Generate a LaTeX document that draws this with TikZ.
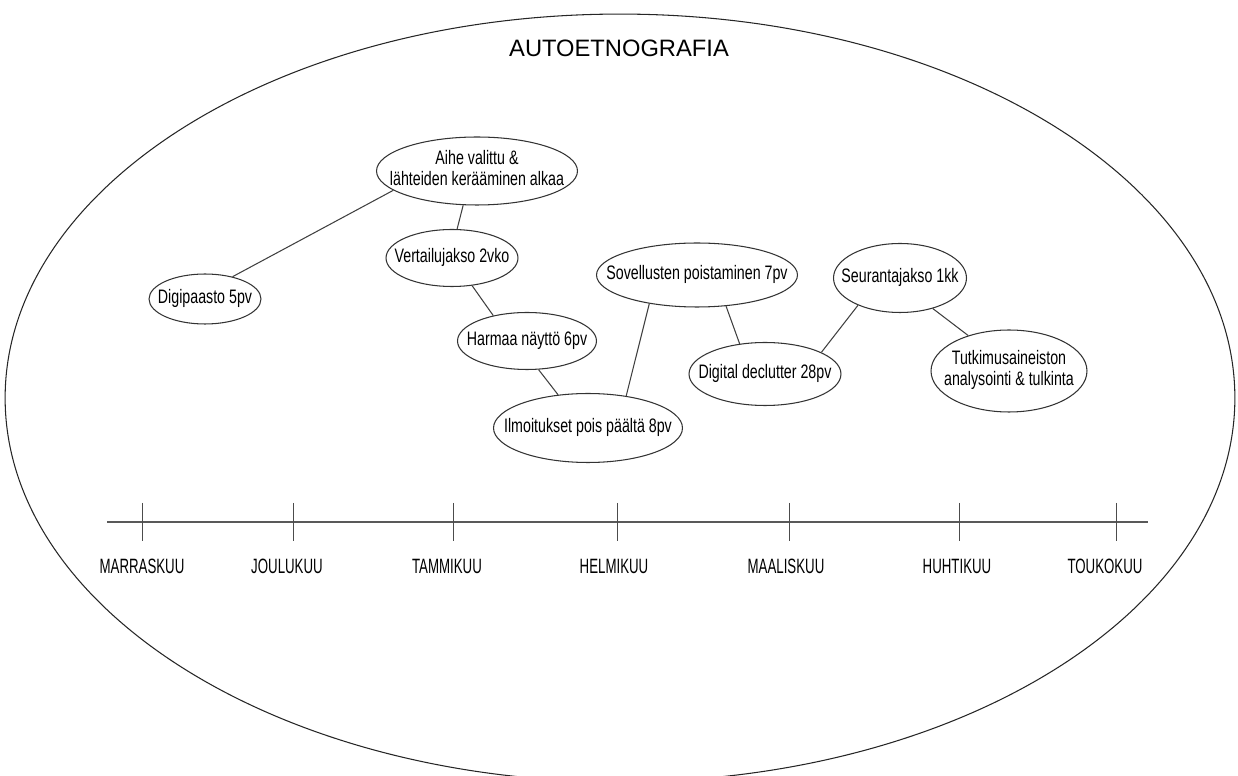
\documentclass[tikz,border=0pt]{standalone}
\usepackage{fontspec}
\setmainfont{Liberation Sans}
\newfontfamily\narrowfont[FakeStretch=0.73]{Liberation Sans}
\newfontfamily\monthfont[FakeStretch=0.64]{Liberation Sans}
\usetikzlibrary{shapes.geometric}
% text that does not widen its ellipse
\newcommand\phasetext[1]{\makebox[0pt]{\begin{tabular}{@{}c@{}}#1\end{tabular}}}

\begin{document}
\begin{tikzpicture}[x=0.02cm,y=-0.02cm,line width=0.6pt,
  phase/.style={draw=black!80,ellipse,inner sep=0pt,font=\narrowfont\fontsize{11.1}{11.4}\selectfont},
  link/.style={draw=black!75},
  tick/.style={draw=black!70,line width=0.5pt},
  month/.style={font=\monthfont\fontsize{11.8}{12}\selectfont}]
\useasboundingbox (0,0) rectangle (1238,776);
% outer frame
\draw[black!85] (620,398) ellipse [x radius=12.3cm, y radius=7.68cm];
\node[font=\fontsize{13.5}{14}\selectfont] (title) at (619,48) {AUTOETNOGRAFIA};
% phases of the study
\node[phase,minimum width=2.24cm,minimum height=1cm] (digi) at (205,299) {\phasetext{Digipaasto 5pv}};
\node[phase,minimum width=4.02cm,minimum height=1.36cm] (aihe) at (477,171) {\phasetext{Aihe valittu \&\\l\"ahteiden ker\"a\"aminen alkaa}};
\node[phase,minimum width=2.64cm,minimum height=1.14cm] (vert) at (452,258) {\phasetext{Vertailujakso 2vko}};
\node[phase,minimum width=2.78cm,minimum height=1.14cm] (harm) at (527,341) {\phasetext{Harmaa n\"aytt\"o 6pv}};
\node[phase,minimum width=3.78cm,minimum height=1.38cm] (ilmo) at (588,428) {\phasetext{Ilmoitukset pois p\"a\"alt\"a 8pv}};
\node[phase,minimum width=4.02cm,minimum height=1.28cm] (sove) at (697,275) {\phasetext{Sovellusten poistaminen 7pv}};
\node[phase,minimum width=3.04cm,minimum height=1.26cm] (decl) at (765,374) {\phasetext{Digital declutter 28pv}};
\node[phase,minimum width=2.66cm,minimum height=1.38cm] (seur) at (900,278) {\phasetext{Seurantajakso 1kk}};
\node[phase,minimum width=3.12cm,minimum height=1.64cm] (tutk) at (1009,371) {\phasetext{Tutkimusaineiston\\analysointi \& tulkinta}};
% links
\draw[link] (digi.39) -- (aihe.193);
\draw[link] (aihe.248) -- (vert.80);
\draw[link] (vert.306) -- (harm.143);
\draw[link] (harm.292) -- (ilmo.132);
\draw[link] (ilmo.40) -- (sove.211);
\draw[link] (sove.313) -- (decl.130);
\draw[link] (decl.21) -- (seur.213);
\draw[link] (seur.317) -- (tutk.139);
% time axis
\draw[black!65,line width=0.9pt] (107,522) -- (1148,522);
\foreach \x/\lx/\l [count=\i] in {142/142/MARRASKUU,293/287/JOULUKUU,453/447/TAMMIKUU,617/614/HELMIKUU,789/786/MAALISKUU,959/957/HUHTIKUU,1116/1105/TOUKOKUU} {
  \draw[tick] (\x,503) -- (\x,541);
  \node[month] (m\i) at (\lx,566) {\l};
}
\end{tikzpicture}
\end{document}
